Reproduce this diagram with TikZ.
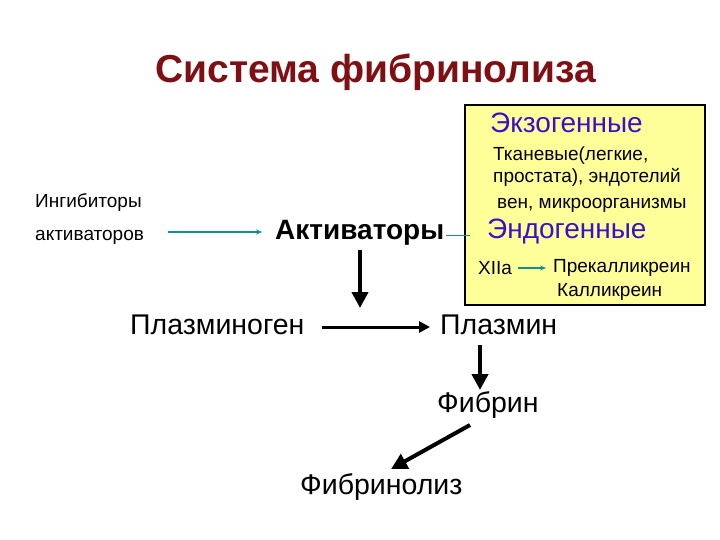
\documentclass[tikz,border=0pt]{standalone}
\usepackage{fontspec}
\setmainfont{Liberation Sans}
\usetikzlibrary{arrows.meta}
\definecolor{ttl}{HTML}{7F0F12}
\definecolor{blu}{HTML}{3A10D0}
\definecolor{teal}{HTML}{109090}
\definecolor{yel}{HTML}{FFFF99}
\tikzset{
 sm/.style={font=\fontsize{19}{22}\selectfont,inner sep=0pt},
 md/.style={font=\fontsize{28.5}{32}\selectfont,inner sep=0pt},
 bl/.style={font=\fontsize{28}{32}\selectfont,inner sep=0pt,text=blu},
 thin arr/.style={teal,line width=1.4pt,-{Stealth[length=6pt,width=5pt]}},
 fat arr/.style={line width=4pt,-{Triangle[length=16pt,width=16pt]}},
 mid arr/.style={line width=3pt,-{Triangle[length=11pt,width=11pt]}}
}
\begin{document}
\begin{tikzpicture}[x=1pt,y=-1pt]
\useasboundingbox (0,0) rectangle (720,540);
\node[font=\bfseries\fontsize{39}{44}\selectfont,text=ttl,anchor=west,inner sep=0pt] (title) at (155,72) {Система фибринолиза};
\draw[fill=yel,line width=1.5pt] (465,105) rectangle (705,305);
\coordinate (boxw) at (470,235);
\node[bl,anchor=west] (exo) at (490,123) {Экзогенные};
\node[sm,anchor=west] (t1) at (493,156) {Тканевые(легкие,};
\node[sm,anchor=west] (t2) at (493,177) {простата), эндотелий};
\node[sm,anchor=west] (t3) at (497,205) {вен, микроорганизмы};
\node[bl,anchor=west] (endo) at (487,232) {Эндогенные};
\node[sm,anchor=west] (x12) at (478,268) {XIIa};
\node[sm,anchor=west] (prek) at (553,268) {Прекалликреин};
\node[sm,anchor=west] (kal) at (557,292) {Калликреин};
\coordinate (xa) at (518,268);
\draw[thin arr] (xa) -- (546,268);
\node[sm,anchor=west] (ing1) at (35,203) {Ингибиторы};
\node[sm,anchor=west] (ing2) at (35,237) {активаторов};
\node[font=\bfseries\fontsize{28}{32}\selectfont,anchor=west,inner sep=0pt] (act) at (275,233) {Активаторы};
\coordinate (a1) at (168,232);
\draw[thin arr] (a1) -- (262,232);
\draw[teal,line width=1pt] (act.east)++(2,2) -- (boxw);
\node[md,anchor=west] (plg) at (130,325) {Плазминоген};
\node[md,anchor=west] (pl) at (440,325) {Плазмин};
\node[md,anchor=west] (fib) at (437,405) {Фибрин};
\node[md,anchor=west] (fl) at (300,487) {Фибринолиз};
\draw[fat arr] (360,250) -- (360,308);
\coordinate (pa) at (322,327);
\draw[mid arr] (pa) -- (430,327);
\draw[fat arr] (480,345) -- (480,390);
\draw[fat arr] (470,425) -- (391,469);
\end{tikzpicture}
\end{document}
